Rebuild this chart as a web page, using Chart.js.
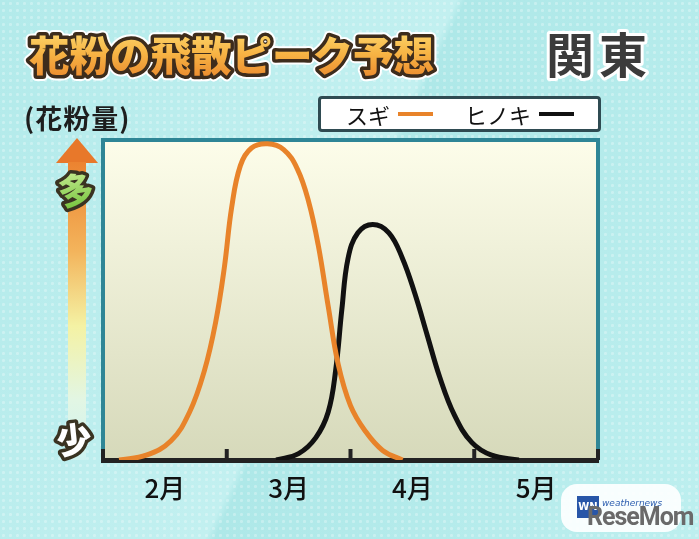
<!DOCTYPE html>
<html>
<head>
<meta charset="utf-8">
<script src="https://cdn.jsdelivr.net/npm/chart.js@4.4.1/dist/chart.umd.min.js"></script>
<style>
  html, body { margin: 0; padding: 0; }
  body {
    width: 699px; height: 539px; overflow: hidden; position: relative;
    font-family: "Noto Sans CJK JP", "Noto Sans", sans-serif;
    background:
      radial-gradient(circle, rgba(255,255,255,0.28) 1.3px, transparent 1.8px) 0 0 / 7px 7px,
      linear-gradient(115deg, #b2eaea 0%, #c2f0f0 48%, #aee8e8 49%, #bdefef 100%);
  }
  #chartBox { position: absolute; left: 0; top: 0; width: 699px; height: 539px; }
  #deco { position: absolute; left: 0; top: 0; }
  #unit { position: absolute; left: 24px; top: 98px; font-size: 27px; font-weight: 700; color: #1e1e1e; letter-spacing: 1px; }
  #legend {
    position: absolute; left: 318px; top: 96px; width: 277px; height: 30px;
    background: #fff; border: 3px solid #2f4b52; border-radius: 4px;
    display: flex; align-items: center; font-size: 22px; color: #111;
  }
  #legend .item { display: flex; align-items: center; }
  #legend .line { display: inline-block; width: 35px; height: 4px; margin-left: 8px; }
  #logo {
    position: absolute; left: 561px; top: 484px; width: 120px; height: 48px;
    background: rgba(255,255,255,0.9); border-radius: 16px;
  }
  #logo .wn { position: absolute; left: 16px; top: 12px; width: 22px; height: 22px; background: #2856a8; color: #fff; font: bold 10px "DejaVu Sans"; text-align: center; line-height: 22px; }
  #logo .wtext { position: absolute; left: 41px; top: 14px; font: italic 9px "DejaVu Sans"; color: #3060b0; }
  #logo .rm { position: absolute; left: 26px; top: 18px; font: bold 25px "Roboto", sans-serif; color: #6a6a6a; letter-spacing: -1px; }
</style>
</head>
<body>
<div id="chartBox"><canvas id="pollenChart" width="699" height="539"></canvas></div>

<svg id="deco" width="699" height="539">
  <defs>
    <linearGradient id="titleGrad" x1="0" y1="0" x2="0" y2="1">
      <stop offset="0" stop-color="#ffe27a"/>
      <stop offset="0.5" stop-color="#f7b545"/>
      <stop offset="1" stop-color="#e9832a"/>
    </linearGradient>
    <linearGradient id="shaftGrad" x1="0" y1="0" x2="0" y2="1">
      <stop offset="0" stop-color="#ec8330"/>
      <stop offset="0.3" stop-color="#f3b45c"/>
      <stop offset="0.55" stop-color="#f4f2a4"/>
      <stop offset="0.8" stop-color="#e2f6e4"/>
      <stop offset="1" stop-color="#cdf3f1"/>
    </linearGradient>
    <linearGradient id="manyGrad" x1="0" y1="0" x2="0" y2="1">
      <stop offset="0" stop-color="#d4f2a0"/>
      <stop offset="1" stop-color="#6cbf34"/>
    </linearGradient>
  </defs>

  <text x="29" y="71" font-size="41" font-weight="900" textLength="405" lengthAdjust="spacingAndGlyphs"
        fill="none" stroke="#ffffff" stroke-width="11" stroke-linejoin="round">花粉の飛散ピーク予想</text>
  <text x="29" y="71" font-size="41" font-weight="900" textLength="405" lengthAdjust="spacingAndGlyphs"
        fill="url(#titleGrad)" stroke="#3d2c1c" stroke-width="7" stroke-linejoin="round" paint-order="stroke">花粉の飛散ピーク予想</text>

  <text x="546" y="73" font-size="48" font-weight="700" letter-spacing="5" fill="#3b3b3b" stroke="#ffffff" stroke-width="6"
        stroke-linejoin="round" paint-order="stroke">関東</text>

  <polygon points="77,138 56,163 98,163" fill="#e8782a"/>
  <rect x="68" y="162" width="18" height="298" fill="url(#shaftGrad)"/>

  <text x="76" y="204" font-size="36" font-weight="900" text-anchor="middle" transform="rotate(-8 76 190)"
        fill="url(#manyGrad)" stroke="#3a3322" stroke-width="7" stroke-linejoin="round" paint-order="stroke">多</text>
  <text x="74" y="453" font-size="35" font-weight="900" text-anchor="middle" transform="rotate(-6 74 440)"
        fill="#ffffff" stroke="#3a3322" stroke-width="7" stroke-linejoin="round" paint-order="stroke">少</text>
</svg>

<div id="unit">(花粉量)</div>
<div id="legend"></div>
<div id="logo"><div class="wn">WN</div><div class="wtext">weathernews</div><div class="rm">ReseMom</div></div>

<script>
// x is measured in months from the start of February (0 = Feb 1, 4 = end of May)
const monthLabels = ["2月", "3月", "4月", "5月"];
const monthCenters = [0.5, 1.5, 2.5, 3.5];
const monthEdges = [0, 1, 2, 3, 4];

const seriesNames = ["スギ", "ヒノキ"];
const seriesColors = ["#e8832a", "#111111"];

// スギ (cedar), relative amount 0-100
const sugiX = [0.13, 0.35, 0.55, 0.70, 0.82, 0.91, 0.98, 1.04, 1.11, 1.20, 1.33, 1.46, 1.57, 1.66, 1.74, 1.82, 1.90, 2.00, 2.12, 2.26, 2.42];
const sugiY = [0, 1.5, 6, 15, 28, 43, 60, 79, 92, 97.5, 98.8, 97, 91, 81, 67, 48, 30, 17, 9, 3, 0];

// ヒノキ (cypress)
const hinokiX = [1.40, 1.58, 1.72, 1.82, 1.88, 1.93, 1.98, 2.06, 2.18, 2.31, 2.42, 2.52, 2.62, 2.72, 2.84, 2.98, 3.14, 3.36];
const hinokiY = [0, 2, 7, 15, 28, 47, 63, 71, 73.6, 71, 63, 52, 39, 26, 14, 5.5, 1.5, 0];

function toPoints(xs, ys) {
  return xs.map((x, i) => ({ x: x, y: ys[i] }));
}

const plotDecor = {
  id: "plotDecor",
  beforeDraw(chart) {
    const { ctx, chartArea: a } = chart;
    const g = ctx.createLinearGradient(0, a.top, 0, a.bottom);
    g.addColorStop(0, "#fdfdea");
    g.addColorStop(1, "#d6d9ba");
    ctx.save();
    ctx.fillStyle = g;
    ctx.fillRect(a.left, a.top, a.right - a.left, a.bottom - a.top);
    ctx.restore();
  },
  beforeDatasetsDraw(chart) {
    const { ctx, chartArea: a, scales } = chart;
    ctx.save();
    // teal frame on left / top / right
    ctx.strokeStyle = "#2f8696";
    ctx.lineWidth = 4;
    ctx.beginPath();
    ctx.moveTo(a.left, a.bottom);
    ctx.lineTo(a.left, a.top);
    ctx.lineTo(a.right, a.top);
    ctx.lineTo(a.right, a.bottom);
    ctx.stroke();
    // month boundary tick marks, pointing up into the plot
    ctx.strokeStyle = "#222";
    ctx.lineWidth = 4;
    monthEdges.forEach(v => {
      const px = scales.x.getPixelForValue(v);
      ctx.beginPath();
      ctx.moveTo(px, a.bottom);
      ctx.lineTo(px, a.bottom - 11);
      ctx.stroke();
    });
    ctx.restore();
  }
};

const chart = new Chart(document.getElementById("pollenChart"), {
  type: "line",
  data: {
    datasets: [
      { label: seriesNames[0], data: toPoints(sugiX, sugiY), borderColor: seriesColors[0] },
      { label: seriesNames[1], data: toPoints(hinokiX, hinokiY), borderColor: seriesColors[1] }
    ]
  },
  options: {
    responsive: false,
    animation: false,
    layout: { padding: { left: 103, right: 101, top: 140, bottom: 0 } },
    elements: {
      point: { radius: 0 },
      line: { borderWidth: 5, tension: 0.4, capBezierPoints: true }
    },
    plugins: { legend: { display: false }, tooltip: { enabled: false } },
    scales: {
      x: {
        type: "linear", min: 0, max: 4,
        afterBuildTicks: s => { s.ticks = monthCenters.map(v => ({ value: v })); },
        afterFit: s => { s.height = 79; },
        ticks: {
          callback: (v, i) => monthLabels[i],
          color: "#111", padding: 13, maxRotation: 0, autoSkip: false,
          font: { size: 26, family: "Noto Sans CJK JP", weight: "500" }
        },
        grid: { drawOnChartArea: false, drawTicks: false, color: "rgba(0,0,0,0)" },
        border: { display: true, color: "#222", width: 5 }
      },
      y: { display: false, min: 0, max: 100 }
    }
  },
  plugins: [plotDecor]
});

// legend: name first, then a short line in the series colour
const legendEl = document.getElementById("legend");
chart.data.datasets.forEach((ds, i) => {
  const item = document.createElement("span");
  item.className = "item";
  item.style.marginLeft = i === 0 ? "25px" : "32px";
  const name = document.createElement("span");
  name.textContent = ds.label;
  const line = document.createElement("span");
  line.className = "line";
  line.style.background = ds.borderColor;
  item.appendChild(name);
  item.appendChild(line);
  legendEl.appendChild(item);
});
</script>
</body>
</html>
